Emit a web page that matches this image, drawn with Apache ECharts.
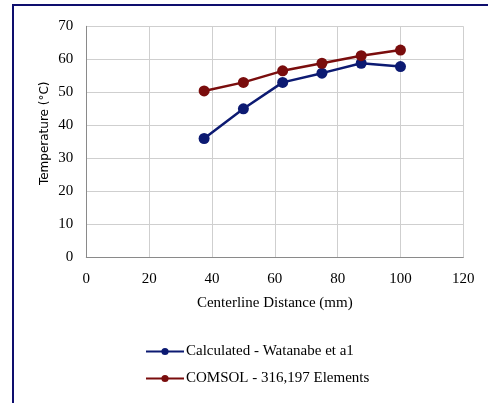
<!DOCTYPE html>
<html>
<head>
<meta charset="utf-8">
<script src="https://cdn.jsdelivr.net/npm/echarts@6/dist/echarts.min.js"></script>
<style>
  html, body { margin: 0; padding: 0; background: #fff; }
  #chart { width: 488px; height: 403px; }
</style>
</head>
<body>
<div id="chart"></div>
<script>
// Centerline distance (mm) of each measurement station
const distances = [37.5, 50, 62.5, 75, 87.5, 100];
// Temperatures (°C)
const calculated = [36, 45, 53, 55.8, 58.8, 57.8];
const comsol = [50.4, 53, 56.5, 58.8, 61.1, 62.8];
const seriesNames = ['Calculated - Watanabe et a1', 'COMSOL - 316,197 Elements'];

const serif = '"Liberation Serif", "Times New Roman", serif';
const sans = '"DejaVu Sans", Verdana, sans-serif';
const chart = echarts.init(document.getElementById('chart'));

function pairs(xs, ys) { return xs.map((x, i) => [x, ys[i]]); }

chart.setOption({
  animation: false,
  backgroundColor: '#fff',
  grid: { left: 86.3, right: 24.7, top: 26.3, bottom: 145.7, containLabel: false },
  xAxis: {
    type: 'value', min: 0, max: 120, interval: 20,
    name: 'Centerline Distance (mm)', nameLocation: 'middle', nameGap: 38,
    nameTextStyle: { fontFamily: serif, fontSize: 15, color: '#000' },
    axisLine: { show: true, lineStyle: { color: '#8a8a8a', width: 1 } },
    axisTick: { show: false },
    axisLabel: { fontFamily: serif, fontSize: 15, color: '#000', margin: 14 },
    splitLine: { show: true, lineStyle: { color: '#cfcfcf', width: 1 } }
  },
  yAxis: {
    type: 'value', min: 0, max: 70, interval: 10,
    name: 'Temperature (°C)', nameLocation: 'middle', nameGap: 35,
    nameMoveOverlap: false,
    nameTextStyle: { fontFamily: sans, fontSize: 12, color: '#000', padding: [0, 0, 0, 17] },
    axisLine: { show: true, lineStyle: { color: '#8a8a8a', width: 1 } },
    axisTick: { show: false },
    axisLabel: { fontFamily: serif, fontSize: 15, color: '#000', margin: 13 },
    splitLine: { show: true, lineStyle: { color: '#cfcfcf', width: 1 } }
  },
  legend: {
    orient: 'vertical', left: 145, top: 344, padding: 0,
    itemWidth: 38, itemHeight: 9, itemGap: 12,
    textStyle: { fontFamily: serif, fontSize: 15, color: '#000', padding: [0, 0, 0, -3] },
    data: seriesNames
  },
  series: [
    {
      name: seriesNames[0], type: 'line', data: pairs(distances, calculated),
      symbol: 'circle', symbolSize: 11,
      lineStyle: { color: '#0c1a72', width: 2.5 },
      itemStyle: { color: '#0c1a72' }
    },
    {
      name: seriesNames[1], type: 'line', data: pairs(distances, comsol),
      symbol: 'circle', symbolSize: 11,
      lineStyle: { color: '#7a0d0d', width: 2.5 },
      itemStyle: { color: '#7a0d0d' }
    }
  ],
  graphic: [
    { type: 'line', shape: { x1: 12, y1: 5, x2: 488, y2: 5 }, style: { stroke: '#0e0e6e', lineWidth: 2 } },
    { type: 'line', shape: { x1: 13, y1: 4, x2: 13, y2: 403 }, style: { stroke: '#0e0e6e', lineWidth: 2 } }
  ]
});
</script>
</body>
</html>
